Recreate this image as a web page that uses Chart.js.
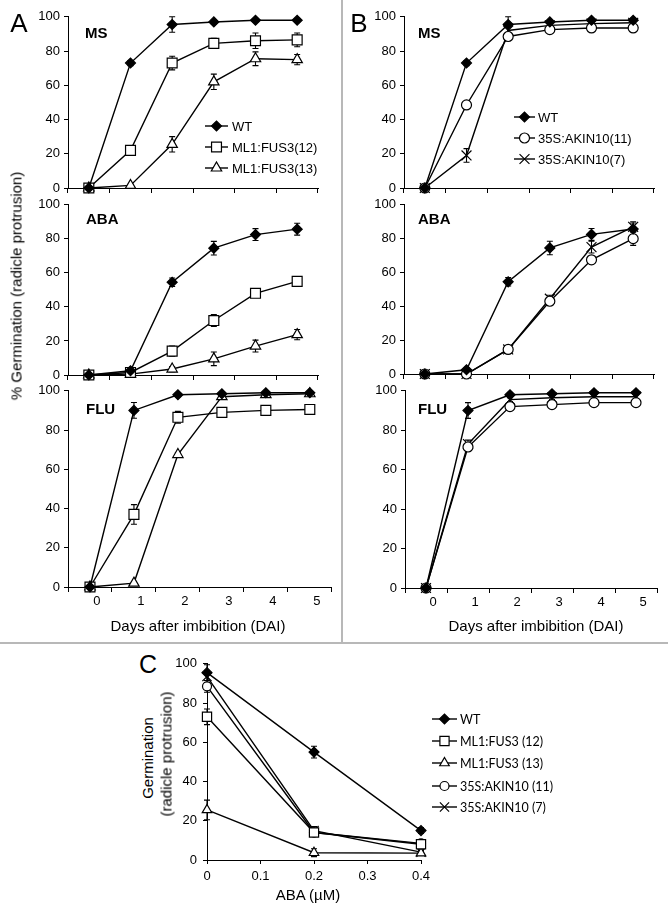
<!DOCTYPE html>
<html>
<head>
<meta charset="utf-8">
<script src="https://cdn.jsdelivr.net/npm/chart.js@4.4.1/dist/chart.umd.min.js"></script>
<style>
body { margin: 0; background: #fff; }
#fig { position: relative; width: 668px; height: 913px; overflow: hidden; font-family: "Liberation Sans", Arial, sans-serif; color: #000; }
#fig canvas { position: absolute; }
.t { position: absolute; white-space: nowrap; line-height: 1; }
.c { transform: translate(-50%, -50%); }
.l { transform: translateY(-50%); }
.v { transform: translate(-50%, -50%) rotate(-90deg); }
.cond { font-weight: bold; font-size: 15px; }
.letter { font-size: 26px; }
.ttl { font-size: 15px; }
.rule { position: absolute; background: #b8b8b8; }
</style>
</head>
<body>
<div id="fig">
  <div class="rule" style="left:341px;top:0;width:2px;height:643px"></div>
  <div class="rule" style="left:0;top:642px;width:668px;height:2px"></div>
</div>
<script>
// x categories / doses
const days = ['0', '1', '2', '3', '4', '5'];
const abaDose = [0, 0.2, 0.4];

// MS medium
const msWT = [0, 73, 95.5, 97, 98, 98];
const msWTErr = [0, 1.5, 4.5, 1, 1, 1];
const msFus12 = [0, 22, 73, 84.5, 86, 86.5];
const msFus12Err = [0, 1, 4, 3, 4.5, 4];
const msFus13 = [0, 1.5, 25.5, 62, 75.5, 75];
const msFus13Err = [0, 0.5, 4.5, 4.5, 4, 3];
const msAkin11 = [0, 48.5, 88.5, 92.5, 93.5, 93.5];
const msAkin11Err = [0, 1, 2, 1, 1, 1];
const msAkin7 = [0, 19, 92, 95, 96, 96.5];
const msAkin7Err = [0, 4, 2, 1, 1, 1];

// ABA
const abaWT = [0, 2.5, 54.5, 74.5, 82.5, 85.7];
const abaWTErr = [0, 1, 2.5, 4, 3.5, 3.5];
const abaFus12 = [0, 1.5, 14, 32, 48, 55];
const abaFus12Err = [0, 0.5, 3, 3.5, 2.5, 2];
const abaFus13 = [0, 0.5, 3.5, 9.5, 17, 23.7];
const abaFus13Err = [0, 0.5, 1.5, 4, 3.5, 3];
const abaAkin11 = [0, 0, 14.5, 43, 67.5, 80];
const abaAkin11Err = [0, 0, 1.5, 2, 2, 4];
const abaAkin7 = [0, 0, 14.5, 44.5, 75, 87];
const abaAkin7Err = [0, 0, 1.5, 2, 3.5, 3];

// FLU
const fluWT = [0, 90, 98, 98.5, 99, 99];
const fluWTErr = [0, 4, 1, 0.5, 0.5, 0.5];
const fluFus12 = [0, 37, 86.5, 89, 90, 90.5];
const fluFus12Err = [0, 5, 3, 2.5, 1.5, 2];
const fluFus13 = [0, 2, 67.5, 97, 98, 98.5];
const fluFus13Err = [0, 0.5, 1, 1, 1, 1];
const fluAkin11 = [0, 71.5, 92, 93, 94, 94];
const fluAkin11Err = [0, 2, 1, 1, 1, 1];
const fluAkin7 = [0, 73, 95.5, 96.5, 97, 97];
const fluAkin7Err = [0, 2, 1, 1, 1, 1];

// panel C: germination vs ABA dose
const doseWT = [95.5, 55, 15];
const doseWTErr = [4, 3, 1.5];
const doseFus12 = [73, 14, 8];
const doseFus12Err = [4, 2, 1];
const doseFus13 = [25.5, 3.7, 3.5];
const doseFus13Err = [5, 2, 1];
const doseAkin11 = [88.5, 14, 8.5];
const doseAkin11Err = [3, 2, 1];
const doseAkin7 = [93.5, 15, 4];
const doseAkin7Err = [3, 2, 1];

const FONT = '"Liberation Sans", Arial, sans-serif';
const fig = document.getElementById('fig');

const WT = { shape: 'rectRot', r: 5, fill: '#000' };
const SQ = { shape: 'rect', r: 7, fill: '#fff' };
const TRI = { shape: 'triangle', r: 6, fill: '#fff' };
const CIR = { shape: 'circle', r: 5, fill: '#fff' };
const CRS = { shape: 'crossRot', r: 7, fill: '#fff' };

// vertical error bars, drawn under the markers
const errPlugin = {
    id: 'err',
    beforeDatasetsDraw(chart) {
        const ctx = chart.ctx;
        const ys = chart.scales.y;
        chart.data.datasets.forEach((ds, i) => {
            if (!ds.errors) return;
            const meta = chart.getDatasetMeta(i);
            meta.data.forEach((pt, j) => {
                const e = ds.errors[j];
                if (!e) return;
                const d = ds.data[j];
                const v = typeof d === 'object' ? d.y : d;
                const y1 = ys.getPixelForValue(v + e), y2 = ys.getPixelForValue(v - e);
                ctx.save();
                ctx.strokeStyle = '#000';
                ctx.lineWidth = 1.1;
                ctx.beginPath();
                ctx.moveTo(pt.x, y1); ctx.lineTo(pt.x, y2);
                ctx.moveTo(pt.x - 3, y1); ctx.lineTo(pt.x + 3, y1);
                ctx.moveTo(pt.x - 3, y2); ctx.lineTo(pt.x + 3, y2);
                ctx.stroke();
                ctx.restore();
            });
        });
    }
};

// small in-plot key: line + marker + label per dataset
const keyPlugin = {
    id: 'key',
    afterDraw(chart, args, opts) {
        if (!opts.rows) return;
        const ctx = chart.ctx;
        chart.data.datasets.forEach((ds, i) => {
            const y = opts.rows[i];
            ctx.save();
            ctx.strokeStyle = '#000';
            ctx.lineWidth = ds.borderWidth;
            ctx.beginPath();
            ctx.moveTo(opts.x1, y); ctx.lineTo(opts.x2, y);
            ctx.stroke();
            ctx.fillStyle = ds.pointBackgroundColor;
            ctx.lineWidth = ds.pointBorderWidth;
            Chart.helpers.drawPoint(ctx, {
                pointStyle: ds.pointStyle,
                radius: ds.pointRadius,
                borderWidth: ds.pointBorderWidth,
                rotation: 0
            }, (opts.x1 + opts.x2) / 2, y);
            ctx.fillStyle = '#000';
            ctx.font = opts.font;
            ctx.textBaseline = 'middle';
            ctx.fillText(ds.label, opts.tx, y + 1);
            ctx.restore();
        });
    }
};

function series(label, values, errors, st, xs) {
    return {
        label,
        data: xs ? xs.map((x, i) => ({ x, y: values[i] })) : values,
        errors,
        borderColor: '#000',
        borderWidth: 1.4,
        pointStyle: st.shape,
        pointRadius: st.r,
        pointBackgroundColor: st.fill,
        pointBorderColor: '#000',
        pointBorderWidth: 1.2,
        clip: false,
        tension: 0
    };
}

function dayAxis(showLabels) {
    return {
        type: 'category',
        offset: true,
        grid: { offset: true, drawOnChartArea: false, tickLength: 5, color: '#000' },
        border: { color: '#000' },
        ticks: { display: showLabels, color: '#000', font: { family: FONT, size: 13 }, padding: 2, labelOffset: 7, maxRotation: 0, autoSkip: false }
    };
}

function makeChart(area, xScale, labels, datasets, o) {
    const lm = o.lm || 45, tm = 10, rm = o.rm || 12, bm = o.bm || 12;
    const left = area.l - lm, top = area.t - tm;
    const w = area.r - area.l + lm + rm, h = area.b - area.t + tm + bm;
    const cv = document.createElement('canvas');
    cv.width = w; cv.height = h;
    cv.style.left = left + 'px'; cv.style.top = top + 'px';
    cv.style.width = w + 'px'; cv.style.height = h + 'px';
    fig.appendChild(cv);
    const key = o.key ? {
        x1: o.key.x1 - left, x2: o.key.x2 - left, tx: o.key.tx - left,
        rows: o.key.rows.map(y => y - top), font: o.key.font
    } : {};
    new Chart(cv, {
        type: 'line',
        data: { labels, datasets },
        options: {
            responsive: false,
            animation: false,
            devicePixelRatio: 1,
            layout: { padding: { top: tm, right: rm, left: 0, bottom: 0 } },
            plugins: { legend: { display: false }, tooltip: { enabled: false }, key },
            scales: {
                x: Object.assign({ afterFit: s => { s.height = bm; } }, xScale),
                y: {
                    min: 0, max: 100,
                    afterFit: s => { s.width = lm; },
                    ticks: { stepSize: 20, color: '#000', font: { family: FONT, size: 13 }, padding: o.ypad || 4 },
                    grid: { drawOnChartArea: false, tickLength: 4, color: '#000' },
                    border: { color: '#000' }
                }
            }
        },
        plugins: [errPlugin, keyPlugin]
    });
}

const keyFont = '13px ' + FONT;

// panel A
makeChart({ l: 68, r: 318, t: 15, b: 188 }, dayAxis(false), days, [
    series('WT', msWT, msWTErr, WT),
    series('ML1:FUS3(12)', msFus12, msFus12Err, SQ),
    series('ML1:FUS3(13)', msFus13, msFus13Err, TRI)
], { key: { x1: 205, x2: 228, tx: 232, rows: [126, 147, 168], font: keyFont } });

makeChart({ l: 68, r: 318, t: 203, b: 375 }, dayAxis(false), days, [
    series('WT', abaWT, abaWTErr, WT),
    series('ML1:FUS3(12)', abaFus12, abaFus12Err, SQ),
    series('ML1:FUS3(13)', abaFus13, abaFus13Err, TRI)
], {});

makeChart({ l: 68, r: 332, t: 389, b: 587 }, dayAxis(true), days, [
    series('WT', fluWT, fluWTErr, WT),
    series('ML1:FUS3(12)', fluFus12, fluFus12Err, SQ),
    series('ML1:FUS3(13)', fluFus13, fluFus13Err, TRI)
], { bm: 24, rm: 8 });

// panel B
makeChart({ l: 404, r: 654, t: 15, b: 188 }, dayAxis(false), days, [
    series('WT', msWT, msWTErr, WT),
    series('35S:AKIN10(11)', msAkin11, msAkin11Err, CIR),
    series('35S:AKIN10(7)', msAkin7, msAkin7Err, CRS)
], { key: { x1: 514, x2: 535, tx: 538, rows: [117, 138, 159], font: keyFont } });

makeChart({ l: 404, r: 654, t: 203, b: 374 }, dayAxis(false), days, [
    series('WT', abaWT, abaWTErr, WT),
    series('35S:AKIN10(11)', abaAkin11, abaAkin11Err, CIR),
    series('35S:AKIN10(7)', abaAkin7, abaAkin7Err, CRS)
], {});

makeChart({ l: 405, r: 657, t: 389, b: 588 }, dayAxis(true), days, [
    series('WT', fluWT, fluWTErr, WT),
    series('35S:AKIN10(11)', fluAkin11, fluAkin11Err, CIR),
    series('35S:AKIN10(7)', fluAkin7, fluAkin7Err, CRS)
], { bm: 24, rm: 10 });

// panel C
const doseAxis = {
    type: 'linear', min: 0, max: 0.4,
    grid: { drawOnChartArea: false, tickLength: 4, color: '#000' },
    border: { color: '#000' },
    ticks: { stepSize: 0.1, color: '#000', font: { family: FONT, size: 13 }, padding: 5, maxRotation: 0 }
};
const cMark = {
    WT: { shape: 'rectRot', r: 5, fill: '#000' },
    SQ: { shape: 'rect', r: 6.5, fill: '#fff' },
    TRI: { shape: 'triangle', r: 5.5, fill: '#fff' },
    CIR: { shape: 'circle', r: 4.5, fill: '#fff' },
    CRS: { shape: 'crossRot', r: 6.5, fill: '#fff' }
};
makeChart({ l: 207, r: 421, t: 660, b: 860 }, doseAxis, undefined, [
    series('WT', doseWT, doseWTErr, cMark.WT, abaDose),
    series('ML1:FUS3 (12)', doseFus12, doseFus12Err, cMark.SQ, abaDose),
    series('ML1:FUS3 (13)', doseFus13, doseFus13Err, cMark.TRI, abaDose),
    series('35S:AKIN10 (11)', doseAkin11, doseAkin11Err, cMark.CIR, abaDose),
    series('35S:AKIN10 (7)', doseAkin7, doseAkin7Err, cMark.CRS, abaDose)
], { bm: 28, rm: 150, ypad: 6, key: { x1: 432, x2: 457, tx: 460, rows: [719, 741, 763, 786, 807], font: '12.5px Lato, "Open Sans", sans-serif' } });

// text labels
function txt(s, x, y, cls, style) {
    const d = document.createElement('div');
    d.className = 't ' + cls;
    d.textContent = s;
    d.style.left = x + 'px';
    d.style.top = y + 'px';
    if (style) d.style.cssText += style;
    fig.appendChild(d);
}
txt('A', 19, 23, 'c letter');
txt('B', 359, 23, 'c letter');
txt('C', 148, 664, 'c letter', 'font-size:25px');
txt('MS', 85, 32, 'l cond');
txt('ABA', 86, 218, 'l cond');
txt('FLU', 86, 408, 'l cond');
txt('MS', 418, 32, 'l cond');
txt('ABA', 418, 218, 'l cond');
txt('FLU', 418, 408, 'l cond');
txt('% Germination (radicle protrusion)', 16, 286, 'v ttl');
txt('Days after imbibition (DAI)', 198, 625, 'c ttl');
txt('Days after imbibition (DAI)', 536, 625, 'c ttl');
txt('Germination', 147, 758, 'v ttl');
txt('(radicle protrusion)', 166, 754, 'v ttl');
txt('ABA (\u00b5M)', 308, 894, 'c ttl');
</script>
</body>
</html>
